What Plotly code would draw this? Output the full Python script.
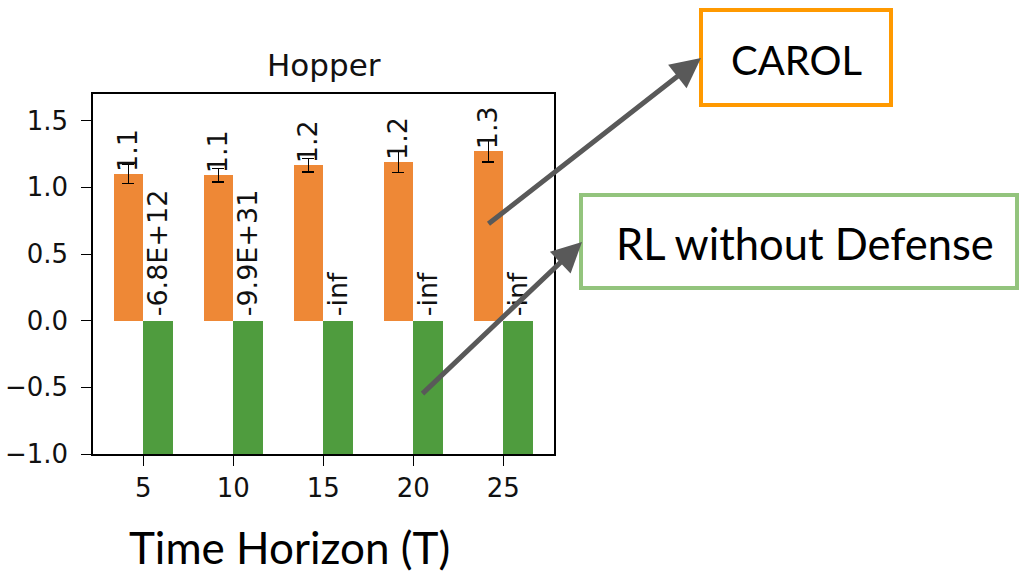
import numpy as np
import plotly.graph_objects as go

# Time horizons and results
horizons = [5, 10, 15, 20, 25]
carol_mean = [1.10, 1.09, 1.165, 1.19, 1.27]
carol_err = [0.07, 0.05, 0.05, 0.08, 0.08]
no_defense = [-6.8e12, -9.9e31, float("-inf"), float("-inf"), float("-inf")]

Y_RANGE = [-1.0, 1.70]
X_RANGE = [2.205, 27.82]
BAR_W = 1.65

ORANGE = "#EE8836"
GREEN = "#4F9C3E"
W, H = 1020, 572
ML, MR, MT, MB = 93, 466, 94, 118
PW, PH = W - ML - MR, H - MT - MB


def px(x):
    return (x - ML) / PW


def py(y):
    return (H - MB - y) / PH


def fmt_big(v):
    if np.isinf(v):
        return "-inf" if v < 0 else "inf"
    return "%.1E" % v


x_carol = [t - BAR_W / 2 for t in horizons]
x_nodef = [t + BAR_W / 2 for t in horizons]
# clip to the visible axis so infinite values still draw to the bottom
nodef_draw = [max(v, Y_RANGE[0]) for v in no_defense]

fig = go.Figure()
fig.add_trace(go.Bar(
    x=x_carol, y=carol_mean, width=BAR_W, marker=dict(color=ORANGE, line=dict(width=0)),
    error_y=dict(type="data", array=carol_err, color="black", thickness=1.5, width=6),
    name="CAROL", showlegend=False,
))
fig.add_trace(go.Bar(
    x=x_nodef, y=nodef_draw, width=BAR_W, marker=dict(color=GREEN, line=dict(width=0)),
    name="RL without Defense", showlegend=False,
))

label_font = dict(family="DejaVu Sans", size=27, color="#111111")
for x, v in zip(x_carol, carol_mean):
    fig.add_annotation(x=x, y=v, xref="x", yref="y", text="%.1f" % v, textangle=-90,
                       showarrow=False, xanchor="center", yanchor="bottom",
                       font=label_font, borderpad=0, yshift=1, xshift=-1)
for x, v in zip(x_nodef, no_defense):
    fig.add_annotation(x=x, y=0, xref="x", yref="y", text=fmt_big(v), textangle=-90,
                       showarrow=False, xanchor="center", yanchor="bottom",
                       font=label_font, borderpad=0, yshift=3, xshift=-1)

# subplot title
fig.add_annotation(x=0.5, y=py(65), xref="paper", yref="paper", text="Hopper",
                   showarrow=False, xanchor="center", yanchor="middle",
                   font=dict(family="DejaVu Sans", size=31, color="#111111"))

# axis caption
fig.add_annotation(x=px(289), y=py(547), xref="paper", yref="paper", text="Time Horizon (T)",
                   showarrow=False, xanchor="center", yanchor="middle",
                   font=dict(family="Lato", size=44, color="black"))

# callout boxes
fig.add_shape(type="rect", xref="paper", yref="paper",
              x0=px(701), x1=px(891), y0=py(105), y1=py(10),
              line=dict(color="#FF9900", width=4), fillcolor="white")
fig.add_annotation(x=px(796), y=py(60), xref="paper", yref="paper", text="CAROL",
                   showarrow=False, xanchor="center", yanchor="middle",
                   font=dict(family="Lato", size=40, color="black"))
fig.add_shape(type="rect", xref="paper", yref="paper",
              x0=px(581), x1=px(1017), y0=py(288), y1=py(195),
              line=dict(color="#93C47D", width=4), fillcolor="white")
fig.add_annotation(x=px(805), y=py(243), xref="paper", yref="paper", text="RL without Defense",
                   showarrow=False, xanchor="center", yanchor="middle",
                   font=dict(family="Lato", size=43.5, color="black"))

# arrows (tail given as pixel offset from the head)
arrow = dict(showarrow=True, arrowhead=2, arrowsize=1.2, arrowwidth=5, arrowcolor="#595959",
             xref="paper", yref="paper", text="", standoff=0)
fig.add_annotation(x=px(701), y=py(58), ax=487 - 701, ay=225 - 58, **arrow)
fig.add_annotation(x=px(582), y=py(242), ax=421 - 582, ay=395 - 242, **arrow)

tick_font = dict(family="DejaVu Sans", size=26, color="#111111")
fig.update_xaxes(range=X_RANGE, tickvals=horizons, ticktext=[str(t) for t in horizons],
                 ticks="outside", ticklen=10, tickwidth=1.2, tickcolor="black",
                 showline=True, linecolor="black", linewidth=1.5, mirror=True,
                 showgrid=False, zeroline=False, tickfont=tick_font, ticklabelstandoff=0,
                 automargin=False)
yt = [-1.0, -0.5, 0.0, 0.5, 1.0, 1.5]
fig.update_yaxes(range=Y_RANGE, tickvals=yt, ticktext=[("%.1f" % v).replace("-", "\u2212") for v in yt],
                 ticks="outside", ticklen=10, tickwidth=1.2, tickcolor="black",
                 showline=True, linecolor="black", linewidth=1.5, mirror=True,
                 showgrid=False, zeroline=False, tickfont=tick_font, ticklabelstandoff=8,
                 automargin=False)

fig.update_layout(
    width=W, height=H, margin=dict(l=ML, r=MR, t=MT, b=MB, autoexpand=False),
    paper_bgcolor="white", plot_bgcolor="white", barmode="overlay", bargap=0,
)

fig.write_html("out.html")
